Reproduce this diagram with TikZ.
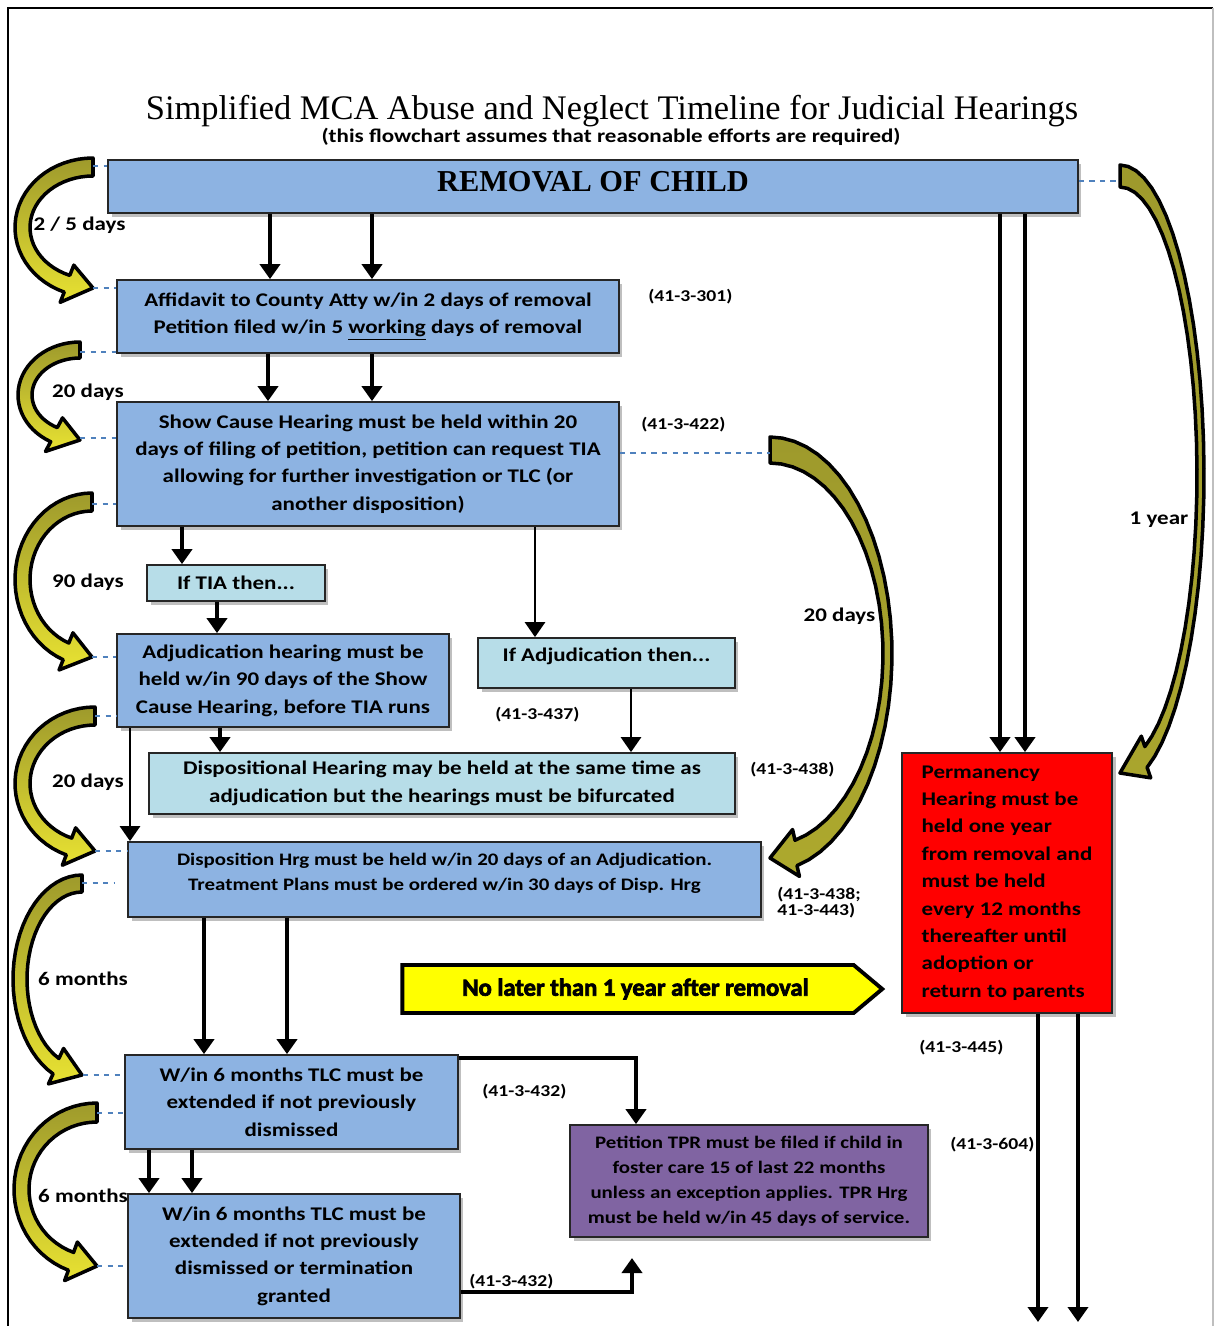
\documentclass[tikz,border=0pt]{standalone}
\usepackage{fontspec}
\setmainfont{Carlito}[FakeStretch=1.19]
\newfontfamily\titlefont{Liberation Serif}
\newfontfamily\signfont{Carlito}[BoldFeatures={FakeBold=3}]
\usetikzlibrary{arrows.meta,positioning,shapes.symbols,shadows}
\definecolor{boxblue}{HTML}{8DB3E2}
\definecolor{boxcyan}{HTML}{B7DDE8}
\definecolor{boxpurple}{HTML}{8064A2}
\definecolor{boxred}{HTML}{FF0000}
\definecolor{linkblue}{HTML}{4F81BD}
\definecolor{olivearr}{HTML}{9E9A2C}
\definecolor{yellowarr}{HTML}{E8E232}
\definecolor{signyellow}{HTML}{FFFF00}
\tikzset{
  box/.style={draw=black!85, line width=1pt, align=center, inner sep=2pt,
    font=\bfseries\fontsize{11}{15.6}\selectfont,
    drop shadow={shadow xshift=2pt, shadow yshift=-2.5pt, opacity=.25, fill=black}},
  boxb/.style={box, fill=boxblue},
  boxc/.style={box, fill=boxcyan},
  boxp/.style={box, fill=boxpurple},
  boxr/.style={box, fill=boxred, align=left},
  arr/.style={-{Triangle[length=0.3cm, width=0.4cm]}, line width=2.4pt},
  arrthin/.style={arr, line width=1.6pt},
  lnk/.style={draw=linkblue, dashed, line width=0.9pt},
  code/.style={font=\bfseries\fontsize{9.4}{11}\selectfont, anchor=west, inner sep=0pt},
  span/.style={font=\bfseries\fontsize{11}{13}\selectfont},
}
% curved block arrow: x of tail and tip, y of tail, y of tip, bulge, side (1 left, -1 right),
% tail thickness, side thickness, top colour, bottom colour
\newcommand\bendarrow[9]{%
  \pgfmathsetmacro\bendB{(#3-#2+#6/2)/2}
  \pgfmathsetmacro\bendC{#2+\bendB}
  \pgfmathsetmacro\bendT{180-asin(min(0.9,26/(#4-#7/2)))}
  \shade[draw=black, line width=2pt, line join=round, top color=#8, bottom color=#9]
    plot[domain=0:\bendT, samples=30] ({#1-(#5)*#4*sin(\x)}, {\bendC-\bendB*cos(\x)})
    -- ({#1-(#5)*(#4+11)*sin(\bendT)}, {\bendC-(\bendB+11)*cos(\bendT)})
    -- (#1,#3)
    -- ({#1-(#5)*(#4-#7-11)*sin(\bendT)}, {\bendC-(\bendB-#6-11)*cos(\bendT)})
    -- plot[domain=\bendT:0, samples=30] ({#1-(#5)*(#4-#7)*sin(\x)}, {\bendC-(\bendB-#6)*cos(\x)})
    -- cycle;
}
\begin{document}
\begin{tikzpicture}[x=0.02cm, y=-0.02cm]
  \useasboundingbox (0,0) rectangle (1215,1326);
  \draw[line width=1pt] (8,1326) -- (8,8) -- (1213,8);
  \draw[gray!50, line width=0.8pt] (1213,8) -- (1213,1326);

  % title
  \node[font=\titlefont\fontsize{19.6}{22}\selectfont] (title) at (612,111) {Simplified MCA Abuse and Neglect Timeline for Judicial Hearings};
  \node[font=\bfseries\fontsize{11}{13}\selectfont] (subtitle) at (611,137) {(this flowchart assumes that reasonable efforts are required)};

  % boxes
  \node[boxb, minimum width=19.4cm, minimum height=1.06cm, text depth=0.2cm, font=\titlefont\bfseries\fontsize{17.3}{19}\selectfont] (rem) at (593,186.5) {REMOVAL OF CHILD};
  \node[boxb, minimum width=10.04cm, minimum height=1.46cm] (aff) at (368,316.5) {Affidavit to County Atty w/in 2 days of removal\\Petition filed w/in 5 \underline{working} days of removal};
  \node[boxb, minimum width=10.04cm, minimum height=2.48cm] (show) at (368,464) {Show Cause Hearing must be held within 20\\days of filing of petition, petition can request TIA\\allowing for further investigation or TLC (or\\another disposition)};
  \node[boxc, minimum width=3.56cm, minimum height=0.72cm] (tia) at (236,583) {If TIA then...};
  \node[boxb, minimum width=6.64cm, minimum height=1.86cm] (adj) at (283,680.5) {Adjudication hearing must be\\held w/in 90 days of the Show\\Cause Hearing, before TIA runs};
  \node[boxc, minimum width=5.14cm, minimum height=1cm, text depth=0.35cm] (ifadj) at (606.5,663) {If Adjudication then...};
  \node[boxc, minimum width=11.72cm, minimum height=1.22cm] (disp) at (442,783.5) {Dispositional Hearing may be held at the same time as\\adjudication but the hearings must be bifurcated};
  \node[boxb, minimum width=12.66cm, minimum height=1.5cm, text depth=0.3cm, font=\bfseries\fontsize{10}{14.2}\selectfont] (dhrg) at (444.5,879.5) {Disposition Hrg must be held w/in 20 days of an Adjudication.\\Treatment Plans must be ordered w/in 30 days of Disp. Hrg};
  \node[boxr, minimum width=4.2cm, minimum height=5.2cm] (perm) at (1007,883) {Permanency\\Hearing must be\\held one year\\from removal and\\must be held\\every 12 months\\thereafter until\\adoption or\\return to parents};
  \node[signal, signal to=east, signal pointer angle=80, draw=black, line width=2.2pt, fill=signyellow,
    minimum width=9.6cm, minimum height=0.96cm, inner sep=0pt, font=\signfont\bfseries\fontsize{14}{17}\selectfont] (late) at (628,989) {\hspace*{0.3cm}No later than 1 year after removal};
  \node[boxb, minimum width=6.66cm, minimum height=1.88cm] (tlc1) at (291.5,1102) {W/in 6 months TLC must be\\extended if not previously\\dismissed};
  \node[boxp, minimum width=7.16cm, minimum height=2.24cm, font=\bfseries\fontsize{10}{14.2}\selectfont] (tpr) at (749,1181) {Petition TPR must be filed if child in\\foster care 15 of last 22 months\\unless an exception applies. TPR Hrg\\must be held w/in 45 days of service.};
  \node[boxb, minimum width=6.64cm, minimum height=2.48cm] (tlc2) at (294,1256) {W/in 6 months TLC must be\\extended if not previously\\dismissed or termination\\granted};

  % statute numbers
  \node[code] (c301) at (648,297) {(41-3-301)};
  \node[code] (c422) at (641,425) {(41-3-422)};
  \node[code] (c437) at (495,715) {(41-3-437)};
  \node[code] (c438) at (750,770) {(41-3-438)};
  \node[code, align=left] (c443) at (777,903) {(41-3-438;\\[-2pt]41-3-443)};
  \node[code] (c445) at (919,1048) {(41-3-445)};
  \node[code] (c432a) at (482,1092) {(41-3-432)};
  \node[code] (c604) at (950,1145) {(41-3-604)};
  \node[code] (c432b) at (469,1282) {(41-3-432)};

  % flow arrows
  \foreach \xx in {270,372}
    \draw[arr] (\xx,0 |- rem.south) -- (\xx,0 |- aff.north);
  \foreach \xx in {268,372}
    \draw[arr] (\xx,0 |- aff.south) -- (\xx,0 |- show.north);
  \draw[arr] (182,0 |- show.south) -- (182,0 |- tia.north);
  \draw[arr] (217,0 |- tia.south) -- (217,0 |- adj.north);
  \draw[arrthin] (535,0 |- show.south) -- (535,0 |- ifadj.north);
  \draw[arr] (220,0 |- adj.south) -- (220,0 |- disp.north);
  \draw[arrthin] (631,0 |- ifadj.south) -- (631,0 |- disp.north);
  \draw[arrthin] (130,0 |- adj.south) -- (130,0 |- dhrg.north);
  \foreach \xx in {204,287}
    \draw[arr] (\xx,0 |- dhrg.south) -- (\xx,0 |- tlc1.north);
  \foreach \xx in {149,192}
    \draw[arr] (\xx,0 |- tlc1.south) -- (\xx,0 |- tlc2.north);
  \draw[arr] (tlc1.east |- 0,1058) -| (636,0 |- tpr.north);
  \coordinate (tprin) at (632,1258);
  \draw[arr] (tlc2.east |- 0,1292) -| (tprin);
  \foreach \xx in {1000,1025}
    \draw[arr] (\xx,0 |- rem.south) -- (\xx,0 |- perm.north);
  \coordinate (out1) at (1038,1322);
  \coordinate (out2) at (1078,1322);
  \draw[arr] (1038,0 |- perm.south) -- (out1);
  \draw[arr] (1078,0 |- perm.south) -- (out2);

  % time spans
  \bendarrow{93}{158}{288}{78}{1}{18}{15}{olivearr}{yellowarr}
  \bendarrow{80}{342}{440}{62}{1}{16}{14}{olivearr}{yellowarr}
  \bendarrow{92}{493}{657}{77}{1}{18}{15}{olivearr}{yellowarr}
  \bendarrow{95}{707}{851}{80}{1}{18}{15}{olivearr}{yellowarr}
  \bendarrow{82}{875}{1075}{69}{1}{17}{14}{olivearr}{yellowarr}
  \bendarrow{97}{1103}{1266}{83}{1}{19}{15}{olivearr}{yellowarr}
  \bendarrow{770}{437}{858}{122}{-1}{26}{9}{olivearr}{olivearr!80!yellowarr}
  \bendarrow{1120}{165}{773}{84}{-1}{22}{7}{olivearr}{olivearr!85!yellowarr}

  \draw[lnk] (93,166) -- (rem.west |- 0,166);
  \draw[lnk] (93,288) -- (aff.west |- 0,288);
  \draw[lnk] (80,352) -- (aff.west |- 0,352);
  \draw[lnk] (80,438) -- (show.west |- 0,438);
  \draw[lnk] (92,504) -- (show.west |- 0,504);
  \draw[lnk] (92,657) -- (adj.west |- 0,657);
  \draw[lnk] (95,716) -- (adj.west |- 0,716);
  \draw[lnk] (95,851) -- (dhrg.west |- 0,851);
  \draw[lnk] (82,883) -- (115,883);
  \draw[lnk] (83,1075) -- (tlc1.west |- 0,1075);
  \draw[lnk] (97,1113) -- (tlc1.west |- 0,1113);
  \draw[lnk] (97,1266) -- (tlc2.west |- 0,1266);
  \draw[lnk] (show.east |- 0,453) -- (770,453);
  \draw[lnk] (rem.east |- 0,181) -- (1120,181);

  \node[span] (d25) at (79.5,225) {2 / 5 days};
  \node[span] (d20a) at (88,392) {20 days};
  \node[span] (d90) at (88,582) {90 days};
  \node[span] (d20b) at (88,782) {20 days};
  \node[span] (m6a) at (83,979) {6 months};
  \node[span] (m6b) at (83,1196) {6 months};
  \node[span] (d20c) at (839.5,616) {20 days};
  \node[span] (y1) at (1159,520) {1 year};
\end{tikzpicture}
\end{document}
